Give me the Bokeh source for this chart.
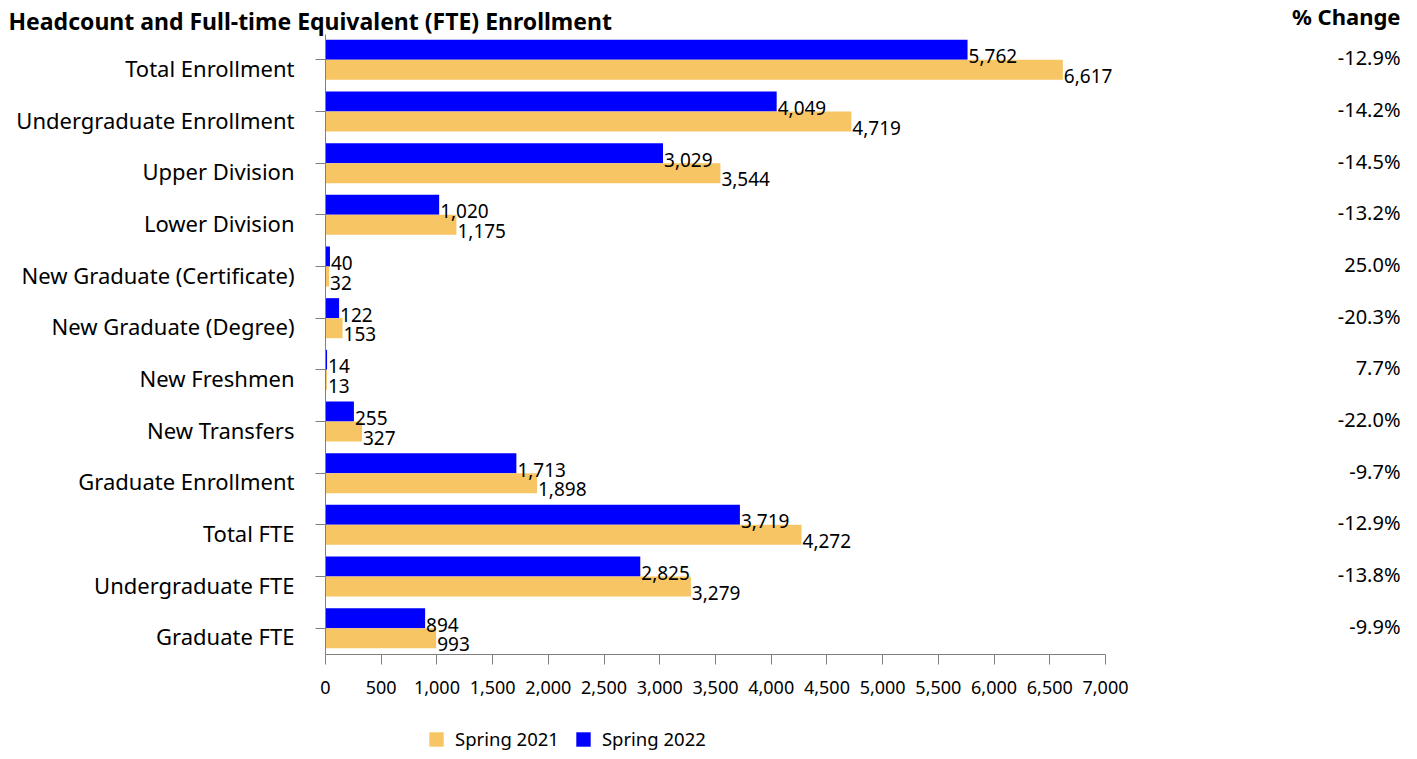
from bokeh.plotting import figure
from bokeh.models import (Range1d, ColumnDataSource, FixedTicker, NumeralTickFormatter,
                          LinearAxis, Label, Legend, LegendItem)
from bokeh.core.properties import value
from bokeh.embed import file_html
from bokeh.resources import INLINE

categories = ["Total Enrollment", "Undergraduate Enrollment", "Upper Division",
              "Lower Division", "New Graduate (Certificate)", "New Graduate (Degree)",
              "New Freshmen", "New Transfers", "Graduate Enrollment", "Total FTE",
              "Undergraduate FTE", "Graduate FTE"]
spring_2021 = [6617, 4719, 3544, 1175, 32, 153, 13, 327, 1898, 4272, 3279, 993]
spring_2022 = [5762, 4049, 3029, 1020, 40, 122, 14, 255, 1713, 3719, 2825, 894]
pct_change = ["-12.9%", "-14.2%", "-14.5%", "-13.2%", "25.0%", "-20.3%",
              "7.7%", "-22.0%", "-9.7%", "-12.9%", "-13.8%", "-9.9%"]
x_ticks = list(range(0, 7001, 500))

TITLE = "Headcount and Full-time Equivalent (FTE) Enrollment"
PCT_HEADER = "% Change"

FONT = "Noto Sans"
BLUE = "#0000FF"
ORANGE = "#F7C564"
AXIS_GRAY = "#808080"

# ---- pixel layout (figure pixels from top-left) ----
FIG_W, FIG_H = 1409, 751
X0_PX = 325.0                 # where x = 0 sits
PX_PER_X = 780.0 / 7000.0     # 0..7000 spans 780 px
Y0_PX = 653.5                 # where the category block bottom sits
N = len(categories)
PX_PER_Y = 620.0 / N          # one category band


def dx(px):
    return (px - X0_PX) / PX_PER_X


def dy(py):
    return (Y0_PX - py) / PX_PER_Y


BAR_H = 20.0 / PX_PER_Y
LABEL_SHIFT = 8.0 / PX_PER_Y

centers = [N - i - 0.5 for i in range(N)]

src = ColumnDataSource(dict(
    cat=categories,
    yc=centers,
    y22=[c + BAR_H / 2 for c in centers],
    y21=[c - BAR_H / 2 for c in centers],
    y21_lbl=[c - BAR_H for c in centers],
    s21=spring_2021,
    s22=spring_2022,
    s21_lbl=[f"{v:,}" for v in spring_2021],
    s22_lbl=[f"{v:,}" for v in spring_2022],
    pct=pct_change,
))

p = figure(x_range=Range1d(dx(0), dx(FIG_W)), y_range=Range1d(dy(FIG_H), dy(0)),
           width=FIG_W, height=FIG_H, output_backend="svg", toolbar_location=None,
           title=None, min_border=0, min_border_left=0, min_border_right=0,
           min_border_top=0, min_border_bottom=0)
p.outline_line_color = None
p.xgrid.visible = False
p.ygrid.visible = False

r22 = p.hbar(y="y22", left=0, right="s22", height=BAR_H,
             fill_color=BLUE, line_color=None, source=src)
r21 = p.hbar(y="y21", left=0, right="s21", height=BAR_H,
             fill_color=ORANGE, line_color=None, source=src)

p.text(x="s22", y="yc", text="s22_lbl", source=src,
       text_baseline="middle", text_align="left", x_offset=1, y_offset=-3.5,
       text_font=value(FONT), text_font_size="19px", text_color="#000000")
p.text(x="s21", y="y21_lbl", text="s21_lbl", source=src,
       text_baseline="middle", text_align="left", x_offset=1, y_offset=-4,
       text_font=value(FONT), text_font_size="19px", text_color="#000000")

# % change column
p.text(x=dx(1400), y="yc", text="pct", source=src,
       text_baseline="middle", text_align="right", y_offset=-2,
       text_font=value(FONT), text_font_size="20px", text_color="#000000")

# ---- x axis ----
xa = p.xaxis[0]
xa.fixed_location = 0
xa.bounds = (0, 7000)
xa.ticker = FixedTicker(ticks=x_ticks)
xa.formatter = NumeralTickFormatter(format="0,0")
xa.axis_line_color = AXIS_GRAY
xa.major_tick_line_color = AXIS_GRAY
xa.major_tick_out = 10
xa.major_tick_in = 0
xa.minor_tick_line_color = None
xa.major_label_text_font = FONT
xa.major_label_text_font_size = "18px"
xa.major_label_text_color = "#000000"
xa.major_label_standoff = 17

# ---- y axis: line + ticks at category centres ----
ya = p.yaxis[0]
ya.fixed_location = 0
ya.bounds = (0, N)
ya.ticker = FixedTicker(ticks=centers)
ya.major_label_overrides = {c: "" for c in centers}
ya.axis_line_color = AXIS_GRAY
ya.major_tick_line_color = AXIS_GRAY
ya.major_tick_out = 10
ya.major_tick_in = 0
ya.minor_tick_line_color = None
ya.major_label_text_font_size = "1px"

# ---- y axis: category names (set slightly below the tick, as in the source) ----
name_ticks = [c - LABEL_SHIFT for c in centers]
ya2 = LinearAxis(fixed_location=0, bounds=(0, N),
                 ticker=FixedTicker(ticks=name_ticks),
                 major_label_overrides={t: c for t, c in zip(name_ticks, categories)},
                 axis_line_color=None, major_tick_line_color=None,
                 minor_tick_line_color=None, major_tick_out=10, major_tick_in=0,
                 major_label_standoff=21, major_label_text_font=FONT,
                 major_label_text_font_size="22px", major_label_text_color="#000000")
p.add_layout(ya2, "left")

# ---- titles ----
p.add_layout(Label(x=dx(8), y=dy(20), text=TITLE,
                   text_align="left", text_baseline="middle", text_font=FONT,
                   text_font_size="23px", text_font_style="bold", text_color="#000000"))
p.add_layout(Label(x=dx(1400), y=dy(15), text=PCT_HEADER,
                   text_align="right", text_baseline="middle", text_font=FONT,
                   text_font_size="22px", text_font_style="bold", text_color="#000000"))

# ---- legend ----
legend = Legend(items=[LegendItem(label="Spring 2021", renderers=[r21]),
                       LegendItem(label="Spring 2022", renderers=[r22])],
                location=(427, 0), orientation="horizontal",
                glyph_width=18, glyph_height=18, label_standoff=10, spacing=15,
                padding=0, margin=0, border_line_alpha=0, background_fill_alpha=0,
                label_text_font=FONT, label_text_font_size="18.5px",
                label_text_color="#000000")
p.add_layout(legend)

open("out.html", "w").write(file_html(p, INLINE))
